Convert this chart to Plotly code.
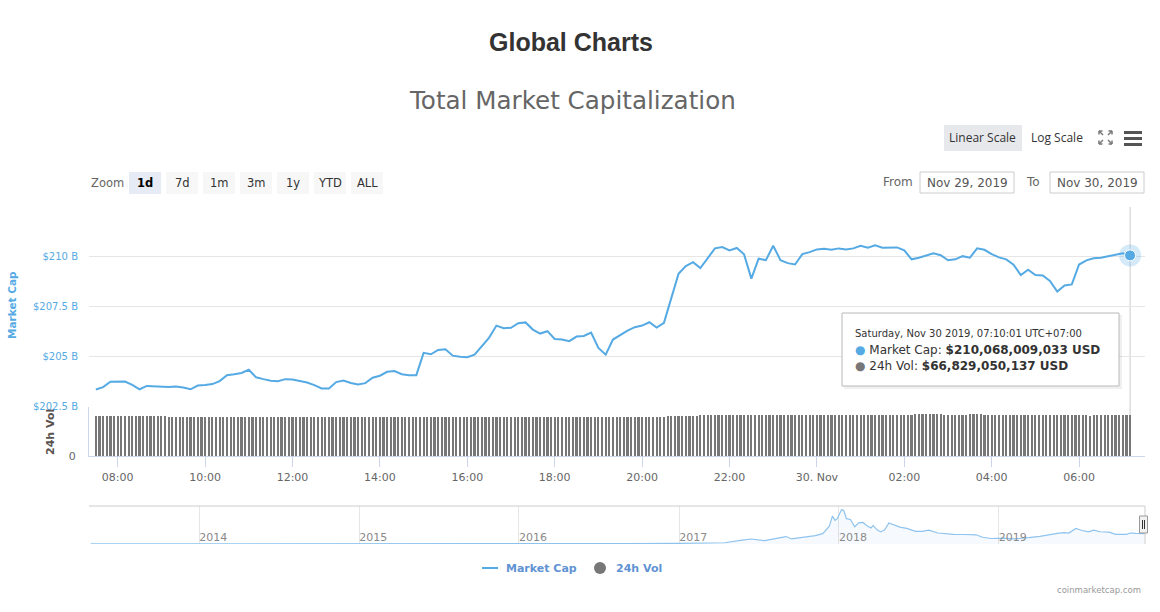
import plotly.graph_objects as go
import pandas as pd

# ------------------------------------------------------------------ data
mcap_start = "2019-11-29 07:30"
mcap_freq = "10min"
market_cap_b = [
    203.33, 203.45, 203.72, 203.73, 203.73, 203.56, 203.34, 203.51, 203.50, 203.46,
    203.45, 203.48, 203.43, 203.34, 203.53, 203.56, 203.60, 203.75, 204.05, 204.10,
    204.16, 204.32, 203.94, 203.85, 203.77, 203.75, 203.85, 203.83, 203.77, 203.68,
    203.55, 203.38, 203.38, 203.70, 203.78, 203.66, 203.58, 203.65, 203.92, 204.02,
    204.22, 204.26, 204.10, 204.05, 204.05, 205.17, 205.10, 205.32,
    205.35, 205.03, 204.97, 204.95, 205.08, 205.50, 205.94, 206.54, 206.41, 206.43,
    206.66, 206.70, 206.34, 206.14, 206.26, 205.87, 205.84, 205.76, 205.99, 206.02,
    206.19, 205.42, 205.08, 205.84, 206.06, 206.29, 206.46, 206.54, 206.71, 206.44,
    206.68, 207.94, 209.14, 209.53, 209.73, 209.43, 209.95, 210.42, 210.49, 210.32,
    210.44, 210.12, 208.90, 209.90, 209.83, 210.55, 209.83, 209.68,
    209.61, 210.13, 210.23, 210.37, 210.40, 210.35, 210.42, 210.37, 210.42, 210.55,
    210.45, 210.57, 210.45, 210.45, 210.47, 210.32, 209.87, 209.95, 210.05, 210.17,
    210.08, 209.82, 209.87, 210.03, 209.95, 210.42, 210.35, 210.13, 209.97, 209.87,
    209.60, 209.08, 209.35, 209.08, 209.06, 208.78, 208.25, 208.56, 208.61, 209.61,
    209.82, 209.92, 209.95, 210.02, 210.12, 210.18, 210.068,
]

vol_start = "2019-11-29 07:30"
vol_freq = "5min"
volume_b = [
    65.7, 65.8, 65.7, 65.8, 65.7, 65.7,
    65.8, 65.7, 65.8, 65.7, 65.7, 65.8, 65.7, 65.8, 65.7, 65.7, 65.8, 65.7,
    65.6, 65.5, 64.2, 64.1, 64.2, 64.1, 64.2, 64.1, 64.1, 64.2, 64.1, 64.2,
    64.1, 64.2, 64.1, 64.1, 64.2, 64.1, 64.2, 64.1, 64.1, 64.2, 64.1, 64.1,
    64.2, 64.1, 64.1, 64.2, 64.1, 64.2, 64.1, 64.1, 64.2, 64.1, 64.1, 64.2,
    64.1, 64.2, 64.1, 64.1, 64.2, 64.1, 64.1, 64.2, 64.1, 64.2, 64.1, 64.1,
    64.2, 64.1, 64.1, 64.2, 64.1, 64.1, 64.2, 64.1, 63.6, 63.2, 63.5, 63.3,
    63.3, 63.4, 63.3, 63.3, 63.4, 63.3, 63.3, 63.4, 63.3, 63.3, 63.4, 63.3,
    63.3, 63.4, 63.3, 63.3, 63.4, 63.3, 63.3, 63.4, 63.3, 63.3, 63.4, 63.3,
    63.4, 63.3, 63.3, 63.4, 63.3, 63.4, 63.3, 63.3, 63.4, 63.3, 63.4, 63.3,
    63.3, 63.4, 63.3, 63.4, 63.3, 63.3, 63.4, 63.3, 63.3, 63.4, 63.3, 63.4,
    63.4, 63.3, 63.4, 63.3, 63.3, 63.4, 63.3, 63.4, 63.3, 63.3, 63.4, 63.3,
    63.3, 63.4, 63.3, 63.3, 63.4, 63.3, 63.4, 63.4, 63.3, 63.4, 63.3, 63.4,
    63.5, 63.6, 63.8, 64.0, 64.2, 64.4, 64.6, 64.8, 65.0, 65.2, 65.4, 65.6,
    65.8, 66.0, 66.2, 66.3, 66.5, 66.6, 66.7, 66.8, 66.9, 67.0, 67.0, 67.1,
    67.2, 67.3, 67.2, 67.3, 67.3, 67.2, 67.3, 67.3, 67.2, 67.3, 67.3, 67.2,
    67.3, 67.2, 67.3, 67.3, 67.2, 67.3, 67.2, 67.3, 67.3, 67.2, 67.3, 67.3,
    67.4, 67.5, 67.4, 67.5, 67.5, 67.4, 67.5, 67.4, 67.5, 67.4, 67.5, 67.4,
    67.3, 67.2, 67.3, 67.2, 67.3, 67.3, 67.2, 67.3, 67.2, 67.3, 67.2, 67.3,
    67.4, 67.6, 67.8, 68.4, 68.5, 68.6, 68.5, 68.4, 68.5, 68.3, 68.2, 67.9,
    67.5, 67.4, 67.5, 67.4, 67.5, 67.6, 68.3, 68.5, 68.4, 68.3, 67.6, 67.3,
    67.2, 67.3, 67.2, 67.3, 67.2, 67.3, 67.5, 67.6, 67.4, 67.3, 67.2, 67.2,
    67.1, 67.2, 67.1, 67.2, 67.1, 67.1, 67.2, 67.1, 67.0, 67.1, 67.0, 67.0,
    66.9, 66.8, 66.9, 65.8, 66.8, 66.9, 66.8, 66.9, 66.8, 66.8, 66.9, 66.8,
    66.8, 66.8, 66.829,
]

tick_times = ["2019-11-29 08:00", "2019-11-29 10:00", "2019-11-29 12:00",
              "2019-11-29 14:00", "2019-11-29 16:00", "2019-11-29 18:00",
              "2019-11-29 20:00", "2019-11-29 22:00", "2019-11-30 00:00",
              "2019-11-30 02:00", "2019-11-30 04:00", "2019-11-30 06:00"]
tick_labels = ["08:00", "10:00", "12:00", "14:00", "16:00", "18:00",
               "20:00", "22:00", "30. Nov", "02:00", "04:00", "06:00"]

y_ticks = [202.5, 205, 207.5, 210, 212.5]
y_tick_labels = ["$202.5 B", "$205 B", "$207.5 B", "$210 B", ""]

nav_dates = [
    "2013-04-28", "2013-08-01", "2013-11-01", "2013-12-04", "2013-12-20", "2014-01-05",
    "2014-03-01", "2014-06-01", "2014-09-01", "2015-01-01", "2015-06-01", "2015-11-05",
    "2016-01-01", "2016-06-15", "2016-09-01", "2017-01-01", "2017-03-01", "2017-04-15",
    "2017-05-25", "2017-06-15", "2017-07-15", "2017-08-20", "2017-09-02", "2017-09-15",
    "2017-10-05", "2017-10-25", "2017-11-08", "2017-11-25", "2017-12-10", "2017-12-17",
    "2017-12-23", "2017-12-28", "2018-01-07", "2018-01-12", "2018-01-18", "2018-01-27",
    "2018-02-06", "2018-02-15", "2018-02-25", "2018-03-05", "2018-03-15", "2018-03-20",
    "2018-03-30", "2018-04-06", "2018-04-15", "2018-04-25", "2018-05-05", "2018-05-20",
    "2018-06-05", "2018-06-25", "2018-07-10", "2018-07-25", "2018-08-15", "2018-09-05",
    "2018-09-20", "2018-10-15", "2018-11-10", "2018-11-25", "2018-12-15", "2019-01-10",
    "2019-02-05", "2019-03-10", "2019-04-05", "2019-05-15", "2019-05-30", "2019-06-10",
    "2019-06-26", "2019-07-10", "2019-07-25", "2019-08-06", "2019-08-20", "2019-09-10",
    "2019-09-25", "2019-10-20", "2019-10-28", "2019-11-10", "2019-11-30",
]
nav_values_b = [
    1.5, 1.3, 3, 14, 7, 11,
    8, 8, 6, 4, 3.5, 6,
    7, 12, 10, 17, 22, 30,
    90, 118, 80, 160, 176, 120,
    150, 175, 200, 245, 420, 660,
    560, 600, 815, 790, 600, 580,
    410, 500, 510, 440, 380, 437,
    330, 286, 330, 496, 450, 400,
    370, 300, 300, 330, 260, 240,
    230, 225, 218, 160, 130, 140,
    120, 150, 180, 250, 270, 260,
    370, 320, 290, 330, 290, 280,
    230, 230, 260, 250, 245,
]
nav_year_ticks = ["2014-01-01", "2015-01-01", "2016-01-01", "2017-01-01", "2018-01-01", "2019-01-01"]
nav_year_labels = ["2014", "2015", "2016", "2017", "2018", "2019"]

zoom_buttons = ["1d", "7d", "1m", "3m", "1y", "YTD", "ALL"]
date_from = "Nov 29, 2019"
date_to = "Nov 30, 2019"
tooltip_time = "Saturday, Nov 30 2019, 07:10:01 UTC+07:00"
tooltip_mcap_usd = 210068009033
tooltip_vol_usd = 66829050137

# ------------------------------------------------------------------ helpers
W, H = 1160, 612
FIG_H = 620          # page reserves a few px at the bottom; keep plot area = 612 px
def px(x):
    return x / W
def py(y):
    return 1 - y / H

BLUE = "#55aae4"
GREY_BAR = "#777777"
FONT = "DejaVu Sans"

mcap_times = pd.date_range(mcap_start, periods=len(market_cap_b), freq=mcap_freq)
vol_times = pd.date_range(vol_start, periods=len(volume_b), freq=vol_freq)

fig = go.Figure()

fig.add_trace(go.Bar(
    x=vol_times, y=volume_b, xaxis="x", yaxis="y2",
    marker=dict(color=GREY_BAR, line=dict(width=0)),
    width=180000, showlegend=False, hoverinfo="skip", name="24h Vol",
))
fig.add_trace(go.Scatter(
    x=mcap_times, y=market_cap_b, xaxis="x", yaxis="y", mode="lines",
    line=dict(color=BLUE, width=2), showlegend=False, name="Market Cap",
))
fig.add_trace(go.Scatter(
    x=[mcap_times[-1]], y=[market_cap_b[-1]], xaxis="x", yaxis="y", mode="markers",
    marker=dict(size=22, color="rgba(85,170,228,0.25)"), showlegend=False, hoverinfo="skip",
))
fig.add_trace(go.Scatter(
    x=[mcap_times[-1]], y=[market_cap_b[-1]], xaxis="x", yaxis="y", mode="markers",
    marker=dict(size=11, color=BLUE, line=dict(color="white", width=1)),
    showlegend=False, hoverinfo="skip",
))
fig.add_trace(go.Scatter(
    x=nav_dates, y=nav_values_b, xaxis="x3", yaxis="y3", mode="lines",
    line=dict(color="#8ec3ee", width=1.2), fill="tozeroy",
    fillcolor="rgba(124,181,236,0.07)", showlegend=False, hoverinfo="skip",
))

X0, X1 = 89, 1145
fig.update_layout(
    width=W, height=FIG_H, margin=dict(l=0, r=0, t=0, b=FIG_H - H, autoexpand=False),
    paper_bgcolor="white", plot_bgcolor="white",
    font=dict(family=FONT, color="#666666"),
    showlegend=False, bargap=0,
    xaxis=dict(
        domain=[px(X0), px(X1)], anchor="y2", type="date",
        range=["2019-11-29 07:20:36", "2019-11-30 07:30:29"],
        tickvals=tick_times, ticktext=tick_labels,
        ticks="outside", ticklen=10, tickcolor="#ccd6eb", tickwidth=1,
        showline=True, linecolor="#ccd6eb", linewidth=1,
        showgrid=False, zeroline=False,
        tickfont=dict(size=11, color="#666666", family=FONT),
    ),
    yaxis=dict(
        domain=[py(406), py(207)], anchor="x", range=[202.5, 212.5],
        tickvals=y_ticks, ticktext=y_tick_labels,
        gridcolor="#e6e6e6", gridwidth=1, zeroline=False, showline=False,
        ticks="", ticklabelstandoff=10,
        tickfont=dict(size=10, color=BLUE, family=FONT),
    ),
    yaxis2=dict(
        domain=[py(456.3), py(406.5)], anchor="x", range=[0, 80],
        tickvals=[0, 80], ticktext=["0", ""],
        gridcolor="#e6e6e6", zeroline=False,
        showline=True, linecolor="#ccd6eb", linewidth=1,
        ticks="", ticklabelstandoff=10,
        tickfont=dict(size=11, color="#666666", family=FONT),
    ),
    xaxis3=dict(
        domain=[px(X0), px(X1)], anchor="y3", type="date",
        range=["2013-04-24", "2019-12-01"],
        tickvals=nav_year_ticks, ticktext=nav_year_labels,
        ticklabelposition="inside right", ticks="", ticklabelstandoff=-5,
        showgrid=True, gridcolor="#e6e6e6", gridwidth=1,
        showline=False, zeroline=False,
        tickfont=dict(size=11, color="#8a8a8a", family=FONT),
    ),
    yaxis3=dict(
        domain=[py(544), py(506)], anchor="x3", range=[0, 900],
        visible=False, fixedrange=True,
    ),
)

shapes = []
annotations = []

def text(x, y, s, size=12, color="#333333", family=FONT, xanchor="center", angle=0):
    annotations.append(dict(
        x=px(x), y=py(y), xref="paper", yref="paper", text=s, showarrow=False,
        xanchor=xanchor, yanchor="middle",
        font=dict(size=size, color=color, family=family), textangle=angle,
    ))

def rect(x0, y0, x1, y1, fill, line=None, lw=1, layer="above"):
    shapes.append(dict(
        type="rect", xref="paper", yref="paper",
        x0=px(x0), x1=px(x1), y0=py(y1), y1=py(y0),
        fillcolor=fill, line=dict(color=line or fill, width=lw if line else 0),
        layer=layer,
    ))

def line(x0, y0, x1, y1, color, width=1, layer="above"):
    shapes.append(dict(
        type="line", xref="paper", yref="paper",
        x0=px(x0), x1=px(x1), y0=py(y0), y1=py(y1),
        line=dict(color=color, width=width), layer=layer,
    ))

# titles
text(571, 42, "<b>Global Charts</b>", size=25, color="#333333", family="Liberation Sans")
text(572, 101, "Total Market Capitalization", size=24.6, color="#666666")

# scale buttons / icons
rect(944, 125, 1022, 151, "#e6e8ec")
text(983, 138, "Linear Scale", size=12, color="#333333", family="Open Sans")
text(1057, 138, "Log Scale", size=12, color="#333333", family="Open Sans")
for cx, cy, dx, dy in [(1099, 131, 1, 1), (1112, 131, -1, 1), (1099, 144, 1, -1), (1112, 144, -1, -1)]:
    line(cx, cy, cx + 4 * dx, cy + 4 * dy, "#777777", 1.5)
    line(cx, cy, cx + 3.5 * dx, cy, "#777777", 1.5)
    line(cx, cy, cx, cy + 3.5 * dy, "#777777", 1.5)
for yy in (131, 137, 143):
    rect(1124, yy, 1142, yy + 3, "#555555")

# range selector
text(107, 183, "Zoom", size=11.5, color="#666666")
for i, lab in enumerate(zoom_buttons):
    bx = 129 + 37 * i
    sel = (i == 0)
    rect(bx, 172, bx + 32, 194, "#e6ebf5" if sel else "#f7f7f7")
    text(bx + 16, 183, f"<b>{lab}</b>" if sel else lab, size=11.5,
         color="#000000" if sel else "#333333")

text(898, 182, "From", size=12, color="#666666")
rect(920, 172, 1014, 193, "white", "#cccccc")
text(967, 182.5, date_from, size=12, color="#555555")
text(1033, 182, "To", size=12, color="#666666")
rect(1050, 172, 1144, 193, "white", "#cccccc")
text(1097, 182.5, date_to, size=12, color="#555555")

# axis titles
text(12, 305, "<b>Market Cap</b>", size=10.5, color=BLUE, angle=-90)
text(50, 432, "<b>24h Vol</b>", size=11, color="#5a5350", angle=-90)

# crosshair at last point
shapes.append(dict(
    type="line", xref="x", yref="paper", x0=mcap_times[-1], x1=mcap_times[-1],
    y0=py(456), y1=py(207), line=dict(color="#cccccc", width=1), layer="below",
))

# tooltip
rect(844, 315, 1122, 389, "rgba(0,0,0,0.06)")
rect(842, 313, 1119, 386, "rgba(255,255,255,0.96)", "#b8b8b8")
text(853, 334, tooltip_time, size=10, color="#333333", xanchor="left")
text(853, 350, f"<span style='color:{BLUE}'>●</span> Market Cap: <b>${tooltip_mcap_usd:,} USD</b>",
     size=12, color="#333333", xanchor="left")
text(853, 366, f"<span style='color:{GREY_BAR}'>●</span> 24h Vol: <b>${tooltip_vol_usd:,} USD</b>",
     size=12, color="#333333", xanchor="left")

# navigator outline + handle
line(X0, 506, X1, 506, "#cccccc", 1)
line(X1, 506, X1, 544, "#cccccc", 1)
rect(1139.5, 516, 1147.5, 533, "#f2f2f2", "#999999")
line(1142.5, 520, 1142.5, 529, "#333333", 1)
line(1144.5, 520, 1144.5, 529, "#333333", 1)

# legend
LEG = "#5f93d3"
line(482, 568, 498, 568, BLUE, 2)
text(504, 568.5, "<b>Market Cap</b>", size=11, color=LEG, xanchor="left")
shapes.append(dict(type="circle", xref="paper", yref="paper",
                   x0=px(594), x1=px(606), y0=py(574), y1=py(562),
                   fillcolor=GREY_BAR, line=dict(width=0)))
text(614, 568.5, "<b>24h Vol</b>", size=11, color=LEG, xanchor="left")

# credits
text(1143, 590, "coinmarketcap.com", size=8.5, color="#999999", xanchor="right")

fig.update_layout(shapes=shapes, annotations=annotations)
fig.write_html(
    "out.html",
    config={"displayModeBar": False, "responsive": False},
    post_script="document.body.style.margin='0px';document.body.style.overflow='hidden';",
)
